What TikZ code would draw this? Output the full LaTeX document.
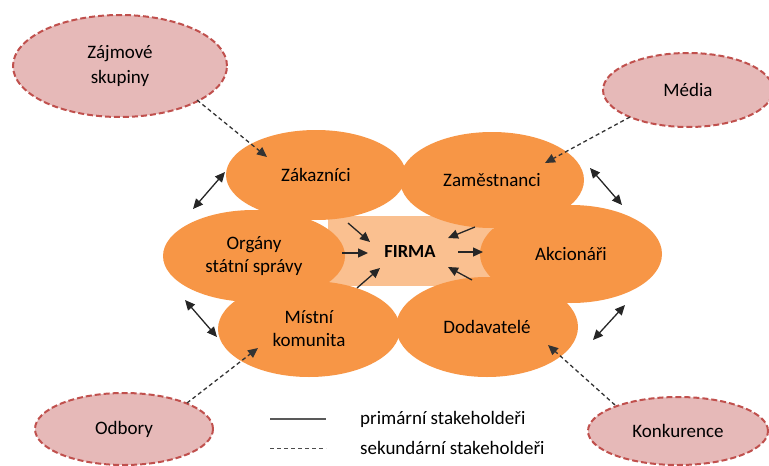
\documentclass[tikz,border=0pt]{standalone}
\usepackage{fontspec}
\setmainfont{Carlito}
\usetikzlibrary{arrows.meta,shapes.geometric}
\definecolor{stakeOrange}{HTML}{F79646}
\definecolor{firmaLight}{HTML}{FAC090}
\definecolor{outerPink}{HTML}{E6B9B8}
\definecolor{outerRed}{HTML}{C0504D}

\begin{document}
\begin{tikzpicture}[x=1pt, y=-1pt,
  primary/.style={shape=ellipse, fill=stakeOrange, inner sep=0pt, align=center, font=\fontsize{19}{23}\selectfont},
  secondary/.style={shape=ellipse, fill=outerPink, draw=outerRed, line width=2pt, dash pattern=on 6pt off 3pt, inner sep=0pt, align=center, font=\fontsize{19}{25}\selectfont},
  tip/.tip={Triangle[length=10pt, width=9pt]},
  rel/.style={-tip, line width=1.3pt, draw=black!85},
  mutual/.style={tip-tip, line width=1.3pt, draw=black!85},
  influence/.style={-tip, line width=1.3pt, draw=black!80, dash pattern=on 4pt off 3pt}]
\useasboundingbox (0,0) rectangle (769,466);

% firma in the middle
\node[fill=firmaLight, minimum width=165pt, minimum height=70pt, inner sep=0pt, font=\fontsize{18.5}{22}\selectfont\bfseries] (firma) at (410,251) {FIRMA};

% primary stakeholders
\node[primary, minimum width=180pt, minimum height=90pt] (zak) at (316,175) {Zákazníci};
\node[primary, minimum width=184pt, minimum height=96pt] (zam) at (492,180) {Zaměstnanci};
\node[primary, minimum width=182pt, minimum height=92pt] (org) at (254,256) {Orgány\\státní správy};
\node[primary, minimum width=182pt, minimum height=98pt] (akc) at (571,254) {Akcionáři};
\node[primary, minimum width=182pt, minimum height=96pt] (mist) at (309,329) {Místní\\komunita};
\node[primary, minimum width=182pt, minimum height=100pt] (dod) at (487,327) {Dodavatelé};

% secondary stakeholders
\node[secondary, minimum width=214pt, minimum height=102pt] (zajm) at (120,66) {Zájmové\\skupiny};
\node[secondary, minimum width=170pt, minimum height=74pt] (media) at (688,90) {Média};
\node[secondary, minimum width=178pt, minimum height=72pt] (odbory) at (124,429) {Odbory};
\node[secondary, minimum width=180pt, minimum height=68pt] (konk) at (678,431) {Konkurence};

% primary relations with firma
\draw[rel] ([shift={(32,48)}]zak.center) -- ([shift={(-40,-9)}]firma.center);
\draw[rel] ([shift={(88,-3)}]org.center) -- ([shift={(-42,2)}]firma.center);
\draw[rel] ([shift={(48,-41)}]mist.center) -- ([shift={(-30,17)}]firma.center);
\draw[rel] ([shift={(-17,47)}]zam.center) -- ([shift={(38,-13)}]firma.center);
\draw[rel] ([shift={(48,1)}]firma.center) -- ([shift={(-88,-2)}]akc.center);
\draw[rel] ([shift={(-15,-47)}]dod.center) -- ([shift={(38,16)}]firma.center);

% links between neighbours
\draw[mutual] ([shift={(-61,-47)}]org.center) -- ([shift={(-91,-3)}]zak.center);
\draw[mutual] ([shift={(98,-12)}]zam.center) -- ([shift={(51,-49)}]akc.center);
\draw[mutual] ([shift={(-69,44)}]org.center) -- ([shift={(-92,8)}]mist.center);
\draw[mutual] ([shift={(54,51)}]akc.center) -- ([shift={(106,13)}]dod.center);

% secondary influence
\draw[influence] ([shift={(77,34)}]zajm.center) -- ([shift={(-49,-18)}]zak.center);
\draw[influence] ([shift={(-58,27)}]media.center) -- ([shift={(53,-17)}]zam.center);
\draw[influence] ([shift={(63,-26)}]odbory.center) -- ([shift={(-51,19)}]mist.center);
\draw[influence] ([shift={(-63,-26)}]konk.center) -- ([shift={(61,18)}]dod.center);

% legend
\coordinate (solidA) at (270,419);
\coordinate (solidB) at (326,419);
\coordinate (dashA) at (270,448);
\coordinate (dashB) at (326,448);
\draw[line width=1.3pt, draw=black!65] (solidA) -- (solidB);
\draw[line width=1pt, draw=black!70, dash pattern=on 4pt off 3pt] (dashA) -- (dashB);
\node[anchor=west, inner sep=0pt, font=\fontsize{19}{23}\selectfont] (primLabel) at (360,419) {primární stakeholdeři};
\node[anchor=west, inner sep=0pt, font=\fontsize{19}{23}\selectfont] (sekLabel) at (360,448) {sekundární stakeholdeři};
\end{tikzpicture}
\end{document}
